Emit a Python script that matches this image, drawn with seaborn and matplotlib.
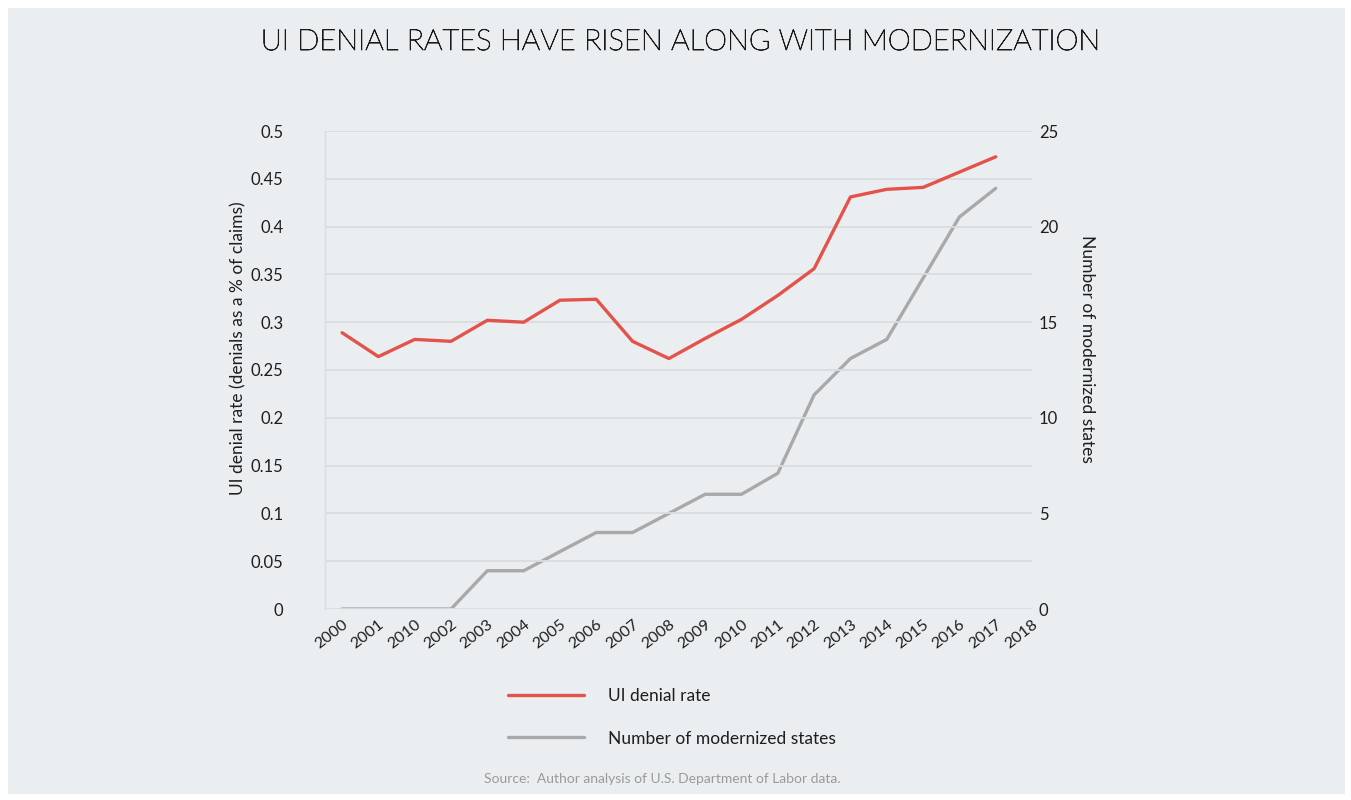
import matplotlib
matplotlib.use("Agg")
import matplotlib.pyplot as plt
import matplotlib.patheffects as pe
import seaborn as sns
import pandas as pd
import numpy as np
from matplotlib.lines import Line2D
from matplotlib.patches import Rectangle

# ---- data ----
year_labels = ["2000", "2001", "2010", "2002", "2003", "2004", "2005", "2006",
               "2007", "2008", "2009", "2010", "2011", "2012", "2013", "2014",
               "2015", "2016", "2017", "2018"]
denial_rate = [0.289, 0.264, 0.282, 0.280, 0.302, 0.300, 0.323, 0.324, 0.280,
               0.262, 0.283, 0.303, 0.328, 0.356, 0.431, 0.439, 0.441, 0.457,
               0.473]
modernized_states = [0, 0, 0, 0, 2, 2, 3, 4, 4, 5, 6, 6, 7.1, 11.2, 13.1, 14.1,
                     17.3, 20.5, 22]

title = "UI DENIAL RATES HAVE RISEN ALONG WITH MODERNIZATION"
left_label = "UI denial rate (denials as a % of claims)"
right_label = "Number of modernized states"
source = "Source:  Author analysis of U.S. Department of Labor data."

df = pd.DataFrame({
    "pos": np.arange(len(denial_rate)),
    "rate": denial_rate,
    "states": modernized_states,
})

BG = "#EBEEF0"
GRID = "#D9DDE0"
RED = "#E4534B"
GRAY = "#A7A9AB"
TXT = "#1E1E1E"

sns.set_theme(style="white")
plt.rcParams["font.family"] = ["Lato", "DejaVu Sans"]

fig = plt.figure(figsize=(13.51, 8.0), dpi=100, facecolor="white")
fig.patches.append(Rectangle((8 / 1351, 6 / 800), 1337 / 1351, 786 / 800,
                             transform=fig.transFigure, facecolor=BG,
                             edgecolor="none", zorder=-10))

ax = fig.add_axes([325 / 1351, 1 - 609 / 800, 707 / 1351, 478 / 800])
ax.set_facecolor(BG)
ax.patch.set_alpha(0)
ax2 = ax.twinx()
ax2.patch.set_alpha(0)

sns.lineplot(data=df, x="pos", y="states", ax=ax2, color=GRAY, linewidth=2.4,
             legend=False)
sns.lineplot(data=df, x="pos", y="rate", ax=ax, color=RED, linewidth=2.4,
             legend=False)
ax.set_zorder(ax2.get_zorder() + 1)

ax.set_ylim(0, 0.5)
ax2.set_ylim(0, 25)
ax.set_xlim(-0.47, 19.0)

yt = np.round(np.arange(0, 0.5001, 0.05), 2)
ax.set_yticks(yt)
ax.set_yticklabels(["0" if v == 0 else ("%g" % v) for v in yt])
ax2.set_yticks([0, 5, 10, 15, 20, 25])

ax.set_xticks(np.arange(len(year_labels)))
ax.set_xticklabels(year_labels, rotation=38, ha="right", rotation_mode="anchor",
                   fontsize=11.5, color=TXT)

ax.yaxis.grid(True, color=GRID, linewidth=1.3)
ax.set_axisbelow(True)
ax2.grid(False)

for a in (ax, ax2):
    for s in a.spines.values():
        s.set_visible(False)
ax.spines["left"].set_visible(True)
ax.spines["left"].set_color(GRID)
ax.spines["left"].set_linewidth(1.0)

ax.tick_params(axis="y", length=0, pad=30, labelsize=12, labelcolor=TXT)
ax.tick_params(axis="x", length=0, pad=6, labelcolor=TXT)
ax2.tick_params(axis="y", length=0, pad=5, labelsize=12, labelcolor=TXT)

ax.set_xlabel("")
ax.set_ylabel(left_label, fontsize=12.5, color=TXT, va="center")
ax.yaxis.set_label_coords((238 - 325) / 707, (609 - 348) / 478)
ax2.set_ylabel(right_label, fontsize=12.5, color=TXT, rotation=270, va="center")
ax2.yaxis.set_label_coords((1087 - 325) / 707, (609 - 349) / 478)

fig.text(680 / 1351, 1 - 42 / 800, title, ha="center", va="center",
         fontsize=21, fontweight="light", color="#1A1A1A",
         path_effects=[pe.withStroke(linewidth=0.6, foreground="#1A1A1A")])

handles = [Line2D([0], [0], color=RED, linewidth=2.4),
           Line2D([0], [0], color=GRAY, linewidth=2.4)]
fig.legend(handles, ["UI denial rate", "Number of modernized states"],
           loc="upper left", bbox_to_anchor=(492 / 1351, 1 - 672 / 800),
           frameon=False, fontsize=12.5, handlelength=4.4, handletextpad=1.4,
           labelspacing=1.55, labelcolor=TXT)

fig.text(662 / 1351, 1 - 779 / 800, source, ha="center", va="center",
         fontsize=10, color="#9A9A9A")

fig.savefig("out.png", dpi=100, facecolor="white")
